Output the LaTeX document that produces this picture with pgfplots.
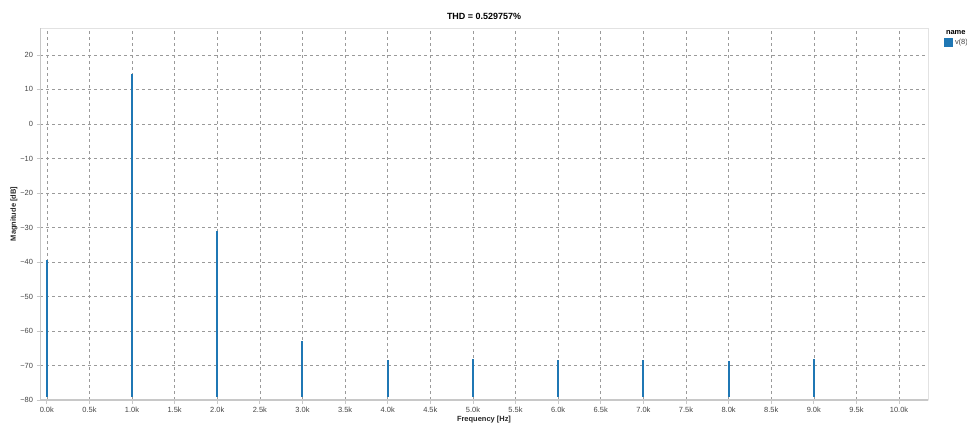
\documentclass[border=0pt]{standalone}
\usepackage{pgfplots}
\pgfplotsset{compat=1.18}
\usepackage{pgfplotstable}
\usepackage{fontspec}
\setmainfont{Liberation Sans}
\setsansfont{Liberation Sans}

\definecolor{spec}{HTML}{1F77B4}
\definecolor{gridc}{HTML}{9A9A9A}
\definecolor{axisc}{HTML}{C8C8C8}
\definecolor{framec}{HTML}{E2E2E2}
\definecolor{labc}{HTML}{444444}

% FFT spectrum lines: each harmonic as a vertical segment from the floor to its magnitude
\pgfplotstableread{
f     mag
0     -79
0     -39.4
nan   nan
1000  -79
1000  14.5
nan   nan
2000  -79
2000  -31.0
nan   nan
3000  -79
3000  -62.9
nan   nan
4000  -79
4000  -68.3
nan   nan
5000  -79
5000  -68.2
nan   nan
6000  -79
6000  -68.4
nan   nan
7000  -79
7000  -68.3
nan   nan
8000  -79
8000  -68.6
nan   nan
9000  -79
9000  -68.1
}\spectrum

\begin{document}
\begin{tikzpicture}[x=1bp,y=1bp]
\useasboundingbox (0,0) rectangle (967,425);
\begin{axis}[
  at={(40bp,25bp)}, anchor=south west,
  scale only axis, width=888bp, height=372bp,
  xmin=-80, xmax=10340, ymin=-80, ymax=27.8,
  unbounded coords=jump,
  scaled x ticks=false, scaled y ticks=false,
  font=\fontsize{7.5}{9}\selectfont,
  /pgf/number format/assume math mode=true,
  xtick={0,500,...,10000},
  xticklabels={0.0k,0.5k,1.0k,1.5k,2.0k,2.5k,3.0k,3.5k,4.0k,4.5k,5.0k,5.5k,6.0k,6.5k,7.0k,7.5k,8.0k,8.5k,9.0k,9.5k,10.0k},
  ytick={-80,-70,...,20},
  yticklabels={−80,−70,−60,−50,−40,−30,−20,−10,0,10,20},
  tick label style={text=labc},
  tick align=outside, tick pos=lower,
  major tick length=3.5bp,
  every tick/.style={axisc, line width=0.8bp},
  grid=major,
  major grid style={gridc, dashed, line width=0.6bp, dash pattern=on 3bp off 3bp},
  axis line style={framec, line width=0.8bp},
  separate axis lines,
  axis x line*=box, axis y line*=box,
  xlabel={\bfseries Frequency [Hz]},
  ylabel={\bfseries Magnitude [dB]},
  xlabel style={font=\fontsize{7.5}{9}\selectfont\bfseries, text=black!85, yshift=3bp},
  ylabel style={font=\fontsize{7.5}{9}\selectfont\bfseries, text=black!85, yshift=-4bp},
  title={\bfseries THD = 0.529757\%},
  title style={font=\fontsize{9}{11}\selectfont\bfseries, yshift=-1bp},
  legend style={at={(1.018,1)}, anchor=north west, draw=none, fill=none,
    font=\fontsize{7.5}{9}\selectfont, text=labc, row sep=0pt,
    inner sep=0pt, outer sep=0pt, legend cell align=left},
]
% heavier left and bottom axis lines
\draw[axisc, line width=1.8bp] (rel axis cs:0,0) -- (rel axis cs:0,1);
\draw[axisc, line width=1.4bp] (rel axis cs:0,0) -- (rel axis cs:1,0);
\addlegendimage{empty legend}
\addlegendentry{\hspace{-9bp}\textcolor{black}{\bfseries name}}
\addplot[spec, line width=2bp, line cap=butt,
  legend image code/.code={\fill[spec] (0bp,-3.5bp) rectangle (7bp,3.5bp);}]
  table[x=f, y=mag] {\spectrum};
\addlegendentry{v(8)}
\end{axis}
\end{tikzpicture}
\end{document}
